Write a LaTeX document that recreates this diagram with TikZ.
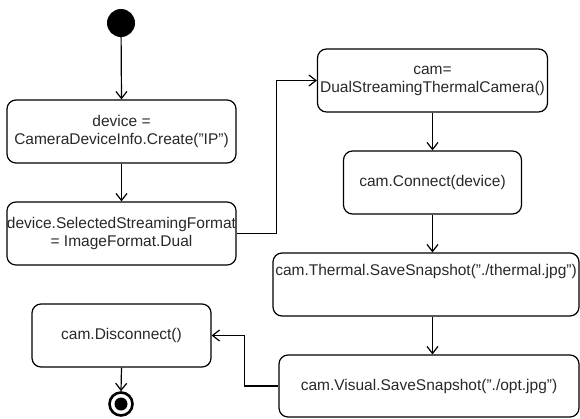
\documentclass[tikz,border=0pt]{standalone}
\usepackage{fontspec}
\setmainfont{Liberation Sans}
\usetikzlibrary{arrows.meta}
\definecolor{txt}{RGB}{40,40,40}
\newcommand{\qq}{\char34\relax}
\begin{document}
\begin{tikzpicture}[x=1pt,y=-1pt,
  act/.style={draw=black, line width=1.2pt, rounded corners=9pt, align=center,
    inner sep=0pt, text=txt, font=\fontsize{15.5}{18}\selectfont},
  arr/.style={draw=black, line width=1.2pt, -{Straight Barb[length=7pt,width=11pt,line width=1.2pt]}},
  lbl/.style={text=txt, font=\fontsize{15.5}{18}\selectfont, align=center, inner sep=0pt}]
\useasboundingbox (0,0) rectangle (580,418);
% start
\node[circle, fill=black, minimum size=28pt, inner sep=0pt] (start) at (121,23) {};
% actions
\node[act, minimum width=229pt, minimum height=63pt] (b1) at (121.5,131.5) {device =\\CameraDeviceInfo.Create(\qq IP\qq)};
\node[act, minimum width=229pt, minimum height=63pt] (b2) at (121.5,233.5) {device.SelectedStreamingFormat\\= ImageFormat.Dual};
\node[act, minimum width=230pt, minimum height=63pt] (b3) at (432.5,80.5) {cam=\\DualStreamingThermalCamera()};
\node[act, minimum width=178pt, minimum height=63pt] (b4) at (432.5,182.5) {cam.Connect(device)};
\node[act, minimum width=306pt, minimum height=63pt] (b5) at (426,284.5) {};
\node[lbl] (t5) at (426,271) {cam.Thermal.SaveSnapshot(\qq./thermal.jpg\qq)};
\node[act, minimum width=300pt, minimum height=62pt] (b6) at (429,386) {cam.Visual.SaveSnapshot(\qq./opt.jpg\qq)};
\node[act, minimum width=179pt, minimum height=63pt] (b7) at (121.5,335.5) {cam.Disconnect()};
% end
\node[circle, draw=black, line width=2.6pt, minimum size=23pt, inner sep=0pt] (end) at (121,404) {};
\node[circle, fill=black, minimum size=13pt, inner sep=0pt] (endin) at (end.center) {};
% connectors
\draw[arr] (start) -- (b1.north);
\draw[arr] (b1.south) -- (b2.north);
\draw[arr] (b2.east) -- ++(40,0) |- (b3.west);
\draw[arr] (b3.south) -- (b4.north);
\draw[arr] (b4.south) -- (b4.south |- b5.north);
\draw[arr] (b5.south -| b4.south) -- (b6.north -| b4.south);
\draw[arr] (b6.west) -- ++(-34,0) |- (b7.east);
\draw[arr] (b7.south) -- (end.north);
\end{tikzpicture}
\end{document}
